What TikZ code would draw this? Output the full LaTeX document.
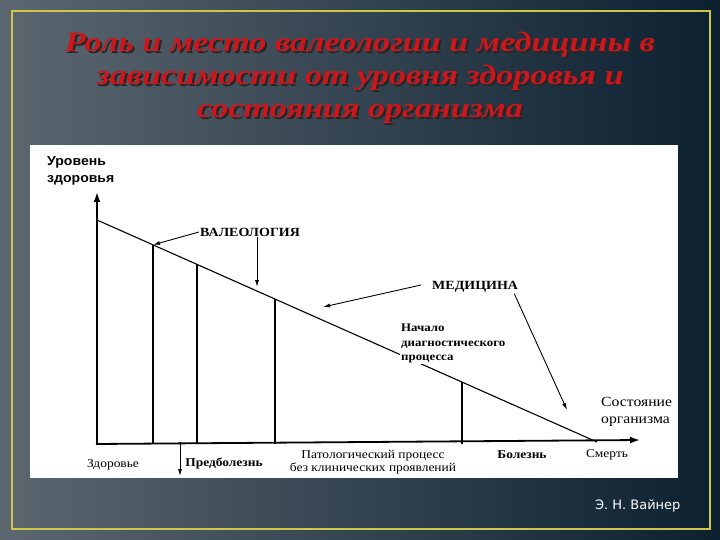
\documentclass[tikz,border=0pt]{standalone}
\usepackage{fontspec}
\setmainfont{Liberation Serif}
\newfontfamily\titlefont[FakeStretch=1.22]{Liberation Serif}
\newfontfamily\scanfont[FakeStretch=1.12]{Liberation Serif}
\newfontfamily\headsans[FakeStretch=1.08]{Liberation Sans}
\newfontfamily\authorfont{DejaVu Sans}
\usetikzlibrary{arrows.meta, positioning, calc}

\definecolor{bgdark}{RGB}{12,32,48}
\definecolor{bglight}{RGB}{92,103,112}
\definecolor{frameyellow}{RGB}{206,198,72}
\definecolor{titlered}{RGB}{205,22,28}

\begin{document}
\begin{tikzpicture}[
    x=1pt, y=-1pt,
    % Styles
    heading/.style={
        font=\titlefont\bfseries\itshape\fontsize{28}{33}\selectfont,
        align=center, inner sep=0pt
    },
    axislabel/.style={
        font=\scanfont\fontsize{14}{17}\selectfont,
        align=left, inner sep=1pt
    },
    caplabel/.style={
        font=\scanfont\bfseries\fontsize{12.5}{14}\selectfont,
        inner sep=1pt
    },
    stagelabel/.style={
        font=\scanfont\fontsize{12}{13}\selectfont,
        align=center, inner sep=1pt
    },
    curve/.style={line width=1.1pt},
    axis/.style={line width=1.8pt, -{Latex[length=10pt, width=7pt]}},
    arrow/.style={line width=0.9pt, -{Latex[length=7pt, width=4pt]}}
]

% === BACKGROUND ===
\shade[left color=bglight, right color=bgdark] (0,0) rectangle (720,540);
\draw[frameyellow, line width=2pt] (12,11) rectangle (710,529);
\fill[white] (30,145) rectangle (678,478);
\useasboundingbox (0,0) rectangle (720,540);

% === TITLE ===
\node (shadow) [heading, text=black!85] at (362,80)
    {Роль и место валеологии и медицины в\\зависимости от уровня здоровья и\\состояния организма};
\node (title) [heading, text=titlered] at (360,78)
    {Роль и место валеологии и медицины в\\зависимости от уровня здоровья и\\состояния организма};

% === AXES ===
\coordinate (origin) at (97,444);
\coordinate (ytip) at (97,192);
\coordinate (xtip) at (640,440);
\draw [axis] (origin) -- (ytip);
\draw [axis] ($(origin)+(-1,0)$) -- (xtip);

% === HEALTH LINE ===
\coordinate (top) at (97,220);
\coordinate (death) at (597,442);
\coordinate (p1) at ($(top)!0.112!(death)$);
\coordinate (p2) at ($(top)!0.2!(death)$);
\coordinate (p3) at ($(top)!0.356!(death)$);
\coordinate (p4) at ($(top)!0.73!(death)$);
\draw [curve] (top) -- (death);
\foreach \p in {p1, p2, p3, p4}
    \draw [curve] (\p) -- (\p |- origin);

% tick below the axis
\coordinate (tick) at (180,442);
\coordinate (tickend) at (180,476);
\draw [arrow] (tick) -- (tickend);

% === LABELS ===
\node (ylabel) [axislabel, font=\headsans\bfseries\fontsize{13}{17}\selectfont, anchor=west] at (46,171) {Уровень\\здоровья};
\node (xlabel) [axislabel, anchor=west] at (600,412) {Состояние\\организма};
\node (valeo) [caplabel, anchor=west] at (199,232) {ВАЛЕОЛОГИЯ};
\node (medic) [caplabel, anchor=west] at (431,287) {МЕДИЦИНА};
\node (diagn) [axislabel, font=\scanfont\bfseries\fontsize{11.5}{14.5}\selectfont, fill=white, anchor=north west] at (400,323)
    {Начало\\диагностического\\процесса};

\node (health) [stagelabel] at (113,465) {Здоровье};
\node (prediz) [stagelabel, font=\scanfont\bfseries\fontsize{12}{13}\selectfont] at (224,463) {Предболезнь};
\node (patho) [stagelabel] at (373,462) {Патологический процесс\\без клинических проявлений};
\node (illness) [stagelabel, font=\scanfont\bfseries\fontsize{12}{13}\selectfont] at (522,455) {Болезнь};
\node (dead) [stagelabel] at (607,455) {Смерть};

\node (author) [font=\authorfont\fontsize{13}{15}\selectfont, text=white, anchor=east] at (684,506) {Э. Н. Вайнер};

% === ARROWS ===
\coordinate (valeodown) at (257,287);
\coordinate (mediline) at (323,307);
\coordinate (medideath) at (567,410);
\draw [arrow] (valeo.west) -- (p1);
\draw [arrow] (valeo.south -| valeodown) -- (valeodown);
\draw [arrow] ($(medic.west)+(-10,-2)$) -- (mediline);
\draw [arrow] ($(medic.south east)+(-5,0)$) -- (medideath);

\end{tikzpicture}
\end{document}
